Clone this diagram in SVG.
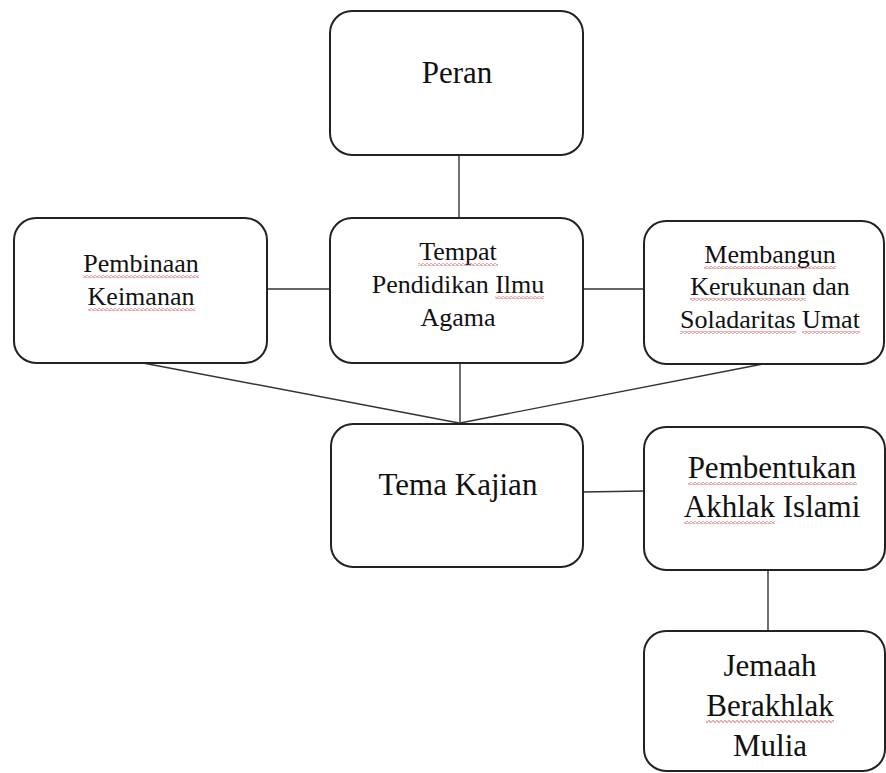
<svg xmlns="http://www.w3.org/2000/svg" width="886" height="773" viewBox="0 0 886 773">
<style>
.box{fill:#fff;stroke:#222;stroke-width:2}
.lnk{stroke:#333;stroke-width:1.4;fill:none}
.t{font-family:"Liberation Serif","Times New Roman",serif;fill:#111;text-anchor:middle}
.s{font-size:26px}
.b{font-size:31px}
.w{fill:url(#wavy)}
</style>
<defs>
<pattern id="wavy" patternUnits="userSpaceOnUse" width="4" height="3">
<path d="M0,1.5 L1,0.5 L3,2.5 L4,1.5" stroke="#cc3b3b" stroke-width="1" fill="none"/>
</pattern>
</defs>
<rect width="886" height="773" fill="#fff"/>
<g id="connectors">
<line class="lnk" x1="459" y1="155" x2="459" y2="218"/>
<line class="lnk" x1="267" y1="289" x2="330" y2="289"/>
<line class="lnk" x1="583" y1="289" x2="644" y2="289"/>
<line class="lnk" x1="460" y1="363" x2="460" y2="424"/>
<line class="lnk" x1="143" y1="363" x2="459" y2="423"/>
<line class="lnk" x1="763" y1="364" x2="460" y2="423"/>
<line class="lnk" x1="583" y1="492" x2="644" y2="491"/>
<line class="lnk" x1="768" y1="570" x2="768" y2="631"/>
</g>
<g id="peran">
<rect class="box" x="330" y="11" width="253" height="144" rx="22"/>
<text class="t b" x="457" y="83">Peran</text>
</g>
<g id="pembinaan">
<rect class="box" x="14" y="218" width="253" height="145" rx="22"/>
<text class="t s" x="141" y="272">Pembinaan</text>
<text class="t s" x="141" y="305">Keimanan</text>
<rect class="w" x="83" y="275" width="116" height="3"/>
<rect class="w" x="88" y="308" width="107" height="3"/>
</g>
<g id="tempat">
<rect class="box" x="330" y="218" width="253" height="145" rx="22"/>
<text class="t s" x="458" y="260">Tempat</text>
<text class="t s" x="458" y="293">Pendidikan Ilmu</text>
<text class="t s" x="458" y="326">Agama</text>
<rect class="w" x="418" y="263" width="80" height="3"/>
<rect class="w" x="495" y="296" width="49" height="3"/>
</g>
<g id="membangun">
<rect class="box" x="644" y="221" width="240" height="143" rx="22"/>
<text class="t s" x="770" y="263">Membangun</text>
<text class="t s" x="770" y="295">Kerukunan dan</text>
<text class="t s" x="770" y="328">Soladaritas Umat</text>
<rect class="w" x="704" y="266" width="132" height="3"/>
<rect class="w" x="690" y="298" width="116" height="3"/>
<rect class="w" x="680" y="331" width="116" height="3"/>
<rect class="w" x="802" y="331" width="58" height="3"/>
</g>
<g id="tema">
<rect class="box" x="331" y="424" width="252" height="143" rx="22"/>
<text class="t b" x="458" y="495">Tema Kajian</text>
</g>
<g id="pembentukan">
<rect class="box" x="644" y="427" width="241" height="143" rx="22"/>
<text class="t b" x="772" y="478">Pembentukan</text>
<text class="t b" x="772" y="517">Akhlak Islami</text>
<rect class="w" x="688" y="482" width="169" height="3"/>
<rect class="w" x="684" y="521" width="91" height="3"/>
</g>
<g id="jemaah">
<rect class="box" x="644" y="631" width="241" height="140" rx="22"/>
<text class="t b" x="770" y="676">Jemaah</text>
<text class="t b" x="770" y="716">Berakhlak</text>
<text class="t b" x="770" y="756">Mulia</text>
<rect class="w" x="706" y="720" width="128" height="3"/>
</g>
</svg>
